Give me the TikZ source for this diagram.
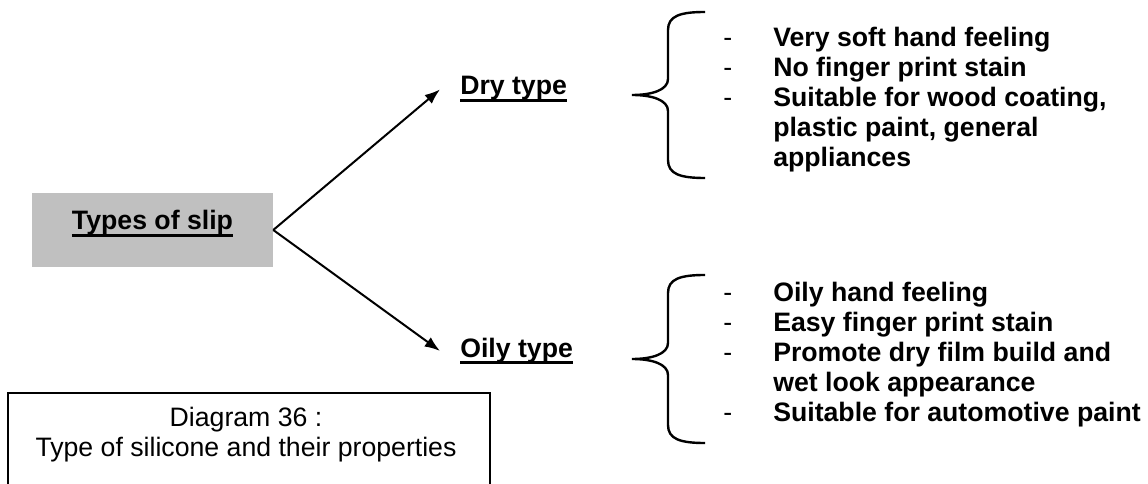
\documentclass[tikz,border=0pt]{standalone}
\usepackage{fontspec}
\setmainfont{Liberation Sans}
\usetikzlibrary{arrows.meta,positioning}
\definecolor{cslip}{HTML}{C0C0C0}
\newcommand{\thickul}[1]{\setbox0\hbox{#1}\leavevmode\rlap{\rule[-5.4pt]{\wd0}{2.4pt}}\box0}
\newcommand{\itemdash}{{\mdseries -}}
\tikzset{
  big/.style={font=\bfseries\fontsize{20}{22.5}\selectfont},
  slipbox/.style={big, fill=cslip, minimum width=180.75pt, text height=27.75pt, text depth=27.75pt, inner sep=0pt},
  kind/.style={big, inner xsep=15pt, inner ysep=0pt, anchor=base west},
  items/.style={big, inner sep=0pt, anchor=base west},
  captxt/.style={font=\fontsize{20}{22.5}\selectfont, inner sep=0pt, anchor=base},
  capframe/.style={draw, line width=2pt},
  pre/.style={-{Latex[length=11.5pt,width=8.5pt]}, line width=1.5pt},
  curly/.style={line width=1.8pt},
}

\begin{document}
\begin{tikzpicture}[x=0.75pt,y=-0.75pt]
\useasboundingbox (0,0) rectangle (1148,484);
% brace: #1 tip, #2 top, #3 bottom
\def\curly#1#2#3{%
  \draw[curly] (705,#2) .. controls (680,#2) and (668,#2+4) .. (668,#2+18)
    -- (668,#1-16) .. controls (668,#1-5) and (652,#1) .. (632,#1)
    .. controls (652,#1) and (668,#1+5) .. (668,#1+16)
    -- (668,#3-18) .. controls (668,#3-4) and (680,#3) .. (705,#3);
}
% root and the two kinds
\node[slipbox] (slip) at (152.5,230) {\thickul{Types of slip}};
\node[kind] (dry) at (440,95) {\thickul{Dry type}};
\node[kind] (oily) at (440,357) {\thickul{Oily type}};
\draw[pre] (slip.east) -- (dry.west);
\draw[pre] (slip.east) -- (oily.west);
% properties
\curly{95}{12}{178}
\curly{359}{275}{443}
\node[items] (drylist) at (723,46.5) {\begin{tabular}[t]{@{}p{37.5pt}@{}l@{}}
\itemdash & Very soft hand feeling\\
\itemdash & No finger print stain\\
\itemdash & Suitable for wood coating,\\
  & plastic paint, general\\
  & appliances
\end{tabular}};
\node[items] (oilylist) at (723,301.5) {\begin{tabular}[t]{@{}p{37.5pt}@{}l@{}}
\itemdash & Oily hand feeling\\
\itemdash & Easy finger print stain\\
\itemdash & Promote dry film build and\\
  & wet look appearance\\
\itemdash & Suitable for automotive paint
\end{tabular}};
% caption
\draw[capframe] (8,393) rectangle (490,520);
\node[captxt] (cap) at (246,426) {\begin{tabular}[t]{@{}c@{}}Diagram 36 :\\
Type of silicone and their properties\end{tabular}};
\end{tikzpicture}
\end{document}
